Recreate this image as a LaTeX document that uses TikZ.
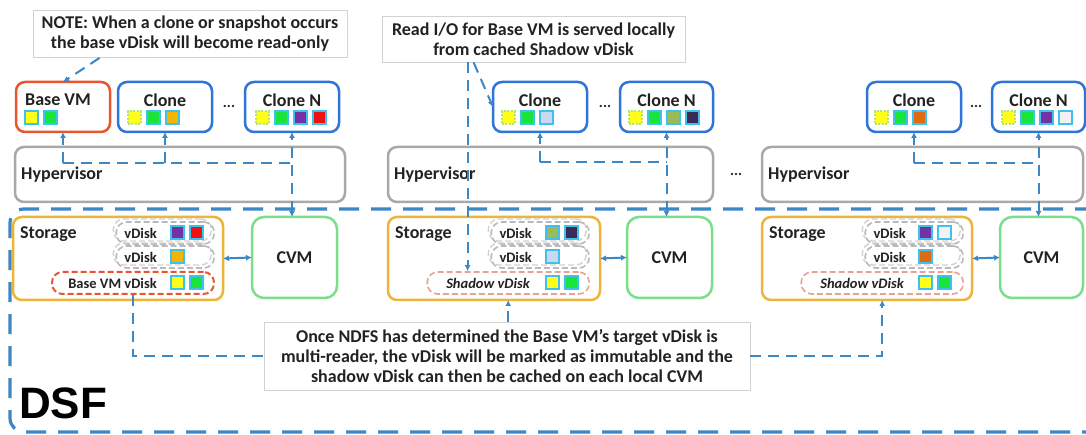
\documentclass[tikz,border=0pt]{standalone}
\usepackage{fontspec}
\setmainfont{Carlito}
\newfontfamily\dsffont{Liberation Sans}
\usetikzlibrary{arrows.meta,calc}
\definecolor{cblue}{HTML}{2F74D8}
\definecolor{cred}{HTML}{E8552E}
\definecolor{cgray}{HTML}{A8A8A8}
\definecolor{cgold}{HTML}{EDB43A}
\definecolor{cgreen}{HTML}{7ADF88}
\definecolor{cconn}{HTML}{3C87C6}
\definecolor{csq}{HTML}{3EC1EE}
\definecolor{qyellow}{HTML}{FFFF1A}
\definecolor{qgreen}{HTML}{19E43C}
\definecolor{qorange}{HTML}{F6B300}
\definecolor{qpurple}{HTML}{7232A2}
\definecolor{qred}{HTML}{EE1111}
\definecolor{qlblue}{HTML}{C9DAF0}
\definecolor{qolive}{HTML}{9BBB59}
\definecolor{qdark}{HTML}{3B2A55}
\definecolor{qbrown}{HTML}{E06A10}
\definecolor{qwhite}{HTML}{F2F2F2}
\definecolor{ctext}{HTML}{222222}
\definecolor{cpale}{HTML}{E6A395}
\tikzset{
  box/.style={draw, rounded corners=9, line width=2.5, fill=white, anchor=north west, inner sep=0, outer sep=0},
  vmbox/.style={box, draw=cblue, minimum width=94, minimum height=50},
  hvbox/.style={box, draw=cgray, minimum width=#1, minimum height=55},
  stbox/.style={box, draw=cgold, minimum width=#1, minimum height=83},
  cvmbox/.style={box, draw=cgreen, rounded corners=12, minimum width=#1, minimum height=81},
  sq/.style={draw=csq, line width=2, minimum size=13, inner sep=0, fill=#1},
  shared/.style={dash pattern=on 2pt off 1.5pt, draw=qyellow!60!csq},
  pill/.style={draw=gray!55, dash pattern=on 6pt off 3pt, line width=1.6, rounded corners=10.5, minimum height=22, inner sep=0, anchor=east, minimum width=#1},
  pillshadow/.style={pill=#1, draw=gray!35, line width=1.4},
  basepill/.style={pill=#1, draw=cred, line width=2},
  shpill/.style={pill=#1, draw=cpale, line width=1.6},
  note/.style={draw=gray!35, line width=0.8, fill=white, align=center, inner sep=0, text=ctext, font=\fontsize{18}{20}\selectfont\bfseries},
  title/.style={text=ctext, inner sep=0, font=\fontsize{18}{20}\selectfont\bfseries},
  small/.style={text=ctext, inner sep=0, font=\fontsize{14.5}{17}\selectfont\bfseries},
  smallit/.style={text=ctext, inner sep=0, font=\fontsize{14.5}{17}\selectfont\bfseries\itshape},
  dots/.style={text=ctext, inner sep=0, font=\fontsize{15}{17}\selectfont\bfseries},
  conn/.style={draw=cconn, line width=2, dash pattern=on 11pt off 7pt},
  tip/.style={-{Latex[length=6pt,width=6pt]}},
  tips/.style={{Latex[length=6pt,width=6pt]}-{Latex[length=6pt,width=6pt]}},
  dbl/.style={draw=cconn, line width=2, {Latex[length=6pt,width=6pt]}-{Latex[length=6pt,width=6pt]}},
  dsf/.style={draw=cconn, line width=3.2, dash pattern=on 20pt off 12pt, rounded corners=14},
}
% prefix, base anchor, dx, dy, first-square style, colours
\newcommand\sqrow[6]{%
  \foreach \c [count=\i] in {#6} {%
    \ifnum\i=1
      \node[sq=\c,#5] (#1-s\i) at ($(#2)+({#3+19*(\i-1)},#4)$) {};
    \else
      \node[sq=\c] (#1-s\i) at ($(#2)+({#3+19*(\i-1)},#4)$) {};
    \fi}}
% grey vDisk pill with its shadow: name, storage node, right offset, row y
\newcommand\vpill[4]{%
  \node[pillshadow=98] (#1-sh) at ($(#2.north east)+(#3-3,#4-3)$) {};
  \node[pill=98] (#1) at ($(#2.north east)+(#3,#4)$) {};}
\begin{document}
\begin{tikzpicture}[x=1pt,y=-1pt]
\useasboundingbox (0,0) rectangle (1086,435);
\clip (0,0) rectangle (1086,435);
\fill[white] (0,0) rectangle (1086,435);

% DSF frame
\draw[dsf] (1095,209) -- (10,209) -- (10,432) -- (1095,432);
\node[anchor=base west, inner sep=0, text=black, font=\dsffont\fontsize{44}{44}\selectfont\bfseries] (dsf) at (19,418) {DSF};

% ---------- left host ----------
\node[note, minimum width=314, minimum height=47] (note1) at (190,34) {NOTE: When a clone or snapshot occurs\\the base vDisk will become read-only};
\node[vmbox, draw=cred] (bvm) at (16,82) {};
\node[title, anchor=west] (bvmt) at ($(bvm.north west)+(9,18)$) {Base VM};
\sqrow{bvm}{bvm.north west}{15}{36}{}{qyellow,qgreen}
\node[vmbox] (clone1) at (118,82) {};
\node[title] (clone1t) at ($(clone1.north)+(0,18)$) {Clone};
\sqrow{clone1}{clone1.north west}{16}{36}{shared}{qyellow,qgreen,qorange}
\node[dots] (d1) at (229,106) {...};
\node[vmbox] (clonen1) at (245,82) {};
\node[title] (clonen1t) at ($(clonen1.north)+(0,18)$) {Clone N};
\sqrow{clonen1}{clonen1.north west}{17}{36}{shared}{qyellow,qgreen,qpurple,qred}
\node[hvbox=330] (hv1) at (15,147) {};
\node[title, anchor=west] (hv1t) at ($(hv1.west)+(6,0)$) {Hypervisor};
\node[stbox=210] (sto1) at (13,217) {};
\node[title, anchor=west] (sto1t) at ($(sto1.north west)+(7,17)$) {Storage};
\vpill{p1a}{sto1}{-8}{16}
\vpill{p1b}{sto1}{-8}{40}
\node[basepill=162] (sh1) at ($(sto1.north east)+(-8,66)$) {};
\node[small, anchor=east] (p1at) at ($(sto1.north east)+(-66,16)$) {vDisk};
\node[small, anchor=east] (p1bt) at ($(sto1.north east)+(-66,40)$) {vDisk};
\node[small, anchor=east] (sh1t) at ($(sto1.north east)+(-66,66)$) {Base VM vDisk};
\sqrow{p1a}{sto1.north east}{-46}{16}{}{qpurple,qred}
\sqrow{p1b}{sto1.north east}{-46}{40}{}{qorange}
\sqrow{sh1}{sto1.north east}{-46}{66}{}{qyellow,qgreen}
\node[cvmbox=85] (cvm1) at (252,217) {};
\node[title] (cvm1t) at (cvm1.center) {CVM};

% ---------- middle host ----------
\node[note, minimum width=303, minimum height=46] (note2) at (533.5,39) {Read I/O for Base VM is served locally\\from cached Shadow vDisk};
\node[vmbox] (clone2) at (493,82) {};
\node[title] (clone2t) at ($(clone2.north)+(0,18)$) {Clone};
\sqrow{clone2}{clone2.north west}{15}{36}{shared}{qyellow,qgreen,qlblue}
\node[dots] (d2) at (605,106) {...};
\node[vmbox, minimum width=93] (clonen2) at (620,82) {};
\node[title] (clonen2t) at ($(clonen2.north)+(0,18)$) {Clone N};
\sqrow{clonen2}{clonen2.north west}{15}{36}{shared}{qyellow,qgreen,qolive,qdark}
\node[hvbox=325] (hv2) at (388,147) {};
\node[title, anchor=west] (hv2t) at ($(hv2.west)+(6,0)$) {Hypervisor};
\node[dots] (d3) at (736,174) {...};
\node[stbox=212] (sto2) at (388,217) {};
\node[title, anchor=west] (sto2t) at ($(sto2.north west)+(7,17)$) {Storage};
\vpill{p2a}{sto2}{-10}{16}
\vpill{p2b}{sto2}{-10}{40}
\node[shpill=162] (sh2) at ($(sto2.north east)+(-10,66)$) {};
\node[small, anchor=east] (p2at) at ($(sto2.north east)+(-68,16)$) {vDisk};
\node[small, anchor=east] (p2bt) at ($(sto2.north east)+(-68,40)$) {vDisk};
\node[smallit, anchor=east] (sh2t) at ($(sto2.north east)+(-70,66)$) {Shadow vDisk};
\sqrow{p2a}{sto2.north east}{-48}{16}{}{qolive,qdark}
\sqrow{p2b}{sto2.north east}{-48}{40}{}{qlblue}
\sqrow{sh2}{sto2.north east}{-48}{66}{}{qyellow,qgreen}
\node[cvmbox=85] (cvm2) at (627,217) {};
\node[title] (cvm2t) at (cvm2.center) {CVM};

% ---------- right host ----------
\node[vmbox] (clone3) at (867,82) {};
\node[title] (clone3t) at ($(clone3.north)+(0,18)$) {Clone};
\sqrow{clone3}{clone3.north west}{14}{36}{shared}{qyellow,qgreen,qbrown}
\node[dots] (d4) at (976,106) {...};
\node[vmbox, minimum width=93] (clonen3) at (992,82) {};
\node[title] (clonen3t) at ($(clonen3.north)+(0,18)$) {Clone N};
\sqrow{clonen3}{clonen3.north west}{16}{36}{shared}{qyellow,qgreen,qpurple,qwhite}
\node[hvbox=321] (hv3) at (762,147) {};
\node[title, anchor=west] (hv3t) at ($(hv3.west)+(6,0)$) {Hypervisor};
\node[stbox=210] (sto3) at (762,217) {};
\node[title, anchor=west] (sto3t) at ($(sto3.north west)+(7,17)$) {Storage};
\vpill{p3a}{sto3}{-8}{16}
\vpill{p3b}{sto3}{-8}{40}
\node[shpill=162] (sh3) at ($(sto3.north east)+(-8,66)$) {};
\node[small, anchor=east] (p3at) at ($(sto3.north east)+(-66,16)$) {vDisk};
\node[small, anchor=east] (p3bt) at ($(sto3.north east)+(-66,40)$) {vDisk};
\node[smallit, anchor=east] (sh3t) at ($(sto3.north east)+(-68,66)$) {Shadow vDisk};
\sqrow{p3a}{sto3.north east}{-47}{16}{}{qpurple,qwhite}
\sqrow{p3b}{sto3.north east}{-47}{40}{}{qbrown}
\sqrow{sh3}{sto3.north east}{-47}{66}{}{qyellow,qgreen}
\node[cvmbox=83] (cvm3) at (1000,217) {};
\node[title] (cvm3t) at (cvm3.center) {CVM};

% ---------- bottom note ----------
\node[note, minimum width=486, minimum height=68] (bnote) at (507,356) {Once NDFS has determined the Base VM’s target vDisk is\\multi-reader, the vDisk will be marked as immutable and the\\shadow vDisk can then be cached on each local CVM};

% ---------- connectors ----------
\coordinate (h1) at (0,163);
\coordinate (n1a) at ($(note1.south west)+(67,0)$);
\draw[conn,tip] (n1a) -- (bvm.north);
\draw[conn] (bvm.south |- h1) -- (clonen1.south |- h1);
\draw[conn,tip] (bvm.south |- h1) -- (bvm.south);
\draw[conn,tip] (clone1.south |- h1) -- (clone1.south);
\draw[conn,tips] (clonen1.south |- cvm1.north) -- (clonen1.south);

\coordinate (h2) at (0,162);
\coordinate (n2a) at ($(note2.south west)+(86,0)$);
\coordinate (n2b) at ($(note2.south west)+(92,0)$);
\draw[conn,tip] (n2a) -- (n2a |- sh2.north);
\draw[conn,tip] (n2b) -- (clone2.west);
\draw[conn] (clone2.south |- h2) -- (clonen2.south |- h2);
\draw[conn,tip] (clone2.south |- h2) -- (clone2.south);
\draw[conn,tips] (clonen2.south |- cvm2.north) -- (clonen2.south);

\coordinate (h3) at (0,163);
\draw[conn] (clone3.south |- h3) -- (clonen3.south |- h3);
\draw[conn,tip] (clone3.south |- h3) -- (clone3.south);
\draw[conn,tips] (clonen3.south |- cvm3.north) -- (clonen3.south);

\draw[dbl] (sto1.east) -- (cvm1.west);
\draw[dbl] (sto2.east) -- (cvm2.west);
\draw[dbl] (sto3.east) -- (cvm3.west);

\draw[conn] (sh1.south) -- (sh1.south |- bnote.west) -- (bnote.west);
\draw[conn,tip] (bnote.east) -- (bnote.east -| sh3.south) -- (sh3.south |- sto3.south);
\draw[conn,tip] (bnote.north -| sh2.south) -- (sh2.south |- sto2.south);
\end{tikzpicture}
\end{document}
